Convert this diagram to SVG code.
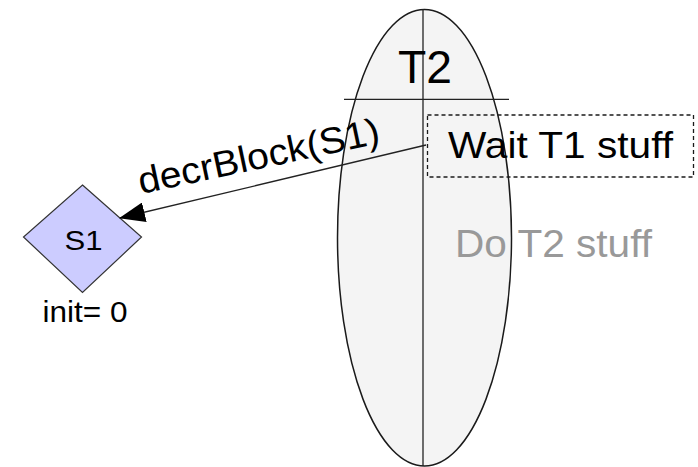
<svg xmlns="http://www.w3.org/2000/svg" width="698" height="467" viewBox="0 0 698 467">
  <style>
    text { font-family: "Liberation Sans", Arial, sans-serif; fill: #000; }
    .outline { stroke: #1a1a1a; stroke-width: 1.5; }
    .thin { stroke: #222; stroke-width: 1.3; fill: none; }
  </style>
  <defs>
    <marker id="arrow" viewBox="0 0 26 20" refX="25" refY="10" markerWidth="26" markerHeight="20" markerUnits="userSpaceOnUse" orient="auto">
      <path d="M0,0 L26,10 L0,20 Z" fill="#000"/>
    </marker>
  </defs>

  <!-- thread T2 lifeline -->
  <g id="T2">
    <ellipse cx="424.5" cy="237.7" rx="87" ry="228.3" fill="#f4f4f4" class="outline"/>
    <line x1="423" y1="9" x2="423" y2="466" class="thin"/>
    <line x1="344" y1="99.3" x2="509" y2="99.3" class="thin"/>
    <text x="398" y="83" font-size="46" textLength="54" lengthAdjust="spacingAndGlyphs">T2</text>
  </g>

  <!-- wait step -->
  <g id="wait">
    <rect x="427.5" y="115" width="266" height="62" fill="none" stroke="#1a1a1a" stroke-width="1.3" stroke-dasharray="4 3"/>
    <text x="448" y="158" font-size="37" textLength="225" lengthAdjust="spacingAndGlyphs">Wait T1 stuff</text>
  </g>

  <!-- work step -->
  <g id="work">
    <text x="455" y="257" font-size="38" style="fill:#999" textLength="197" lengthAdjust="spacingAndGlyphs">Do T2 stuff</text>
  </g>

  <!-- semaphore S1 -->
  <g id="S1">
    <polygon points="82.5,185 141.5,237 82.5,292.5 23.5,237" fill="#ccccff" stroke="#333" stroke-width="1.2"/>
    <text x="64.5" y="250" font-size="27" textLength="38" lengthAdjust="spacingAndGlyphs">S1</text>
    <text x="42.5" y="321.5" font-size="29" textLength="85" lengthAdjust="spacingAndGlyphs">init= 0</text>
  </g>

  <!-- connectors -->
  <g id="connectors">
    <line x1="426" y1="145" x2="120" y2="218" class="thin" marker-end="url(#arrow)"/>
    <text x="0" y="0" font-size="37" transform="translate(141,194) rotate(-12)" textLength="246" lengthAdjust="spacingAndGlyphs">decrBlock(S1)</text>
  </g>
</svg>
